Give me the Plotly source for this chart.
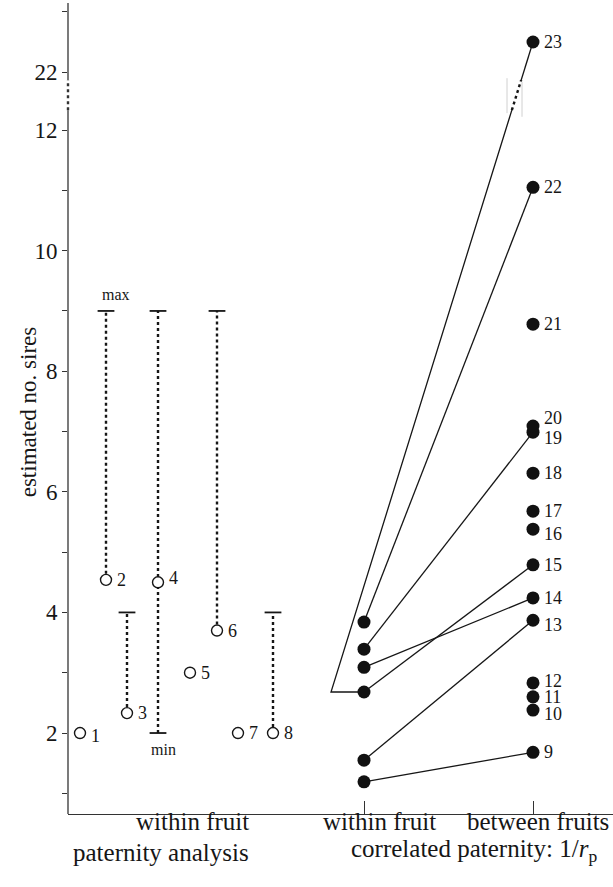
import plotly.graph_objects as go

# ---------------- data ----------------
left_labels = ['1', '2', '3', '4', '5', '6', '7', '8']
left_values = [2.0, 4.54, 2.33, 4.5, 3.0, 3.7, 2.0, 2.0]
left_min = [None, None, None, 2, None, None, None, None]
left_max = [None, 9, 4, 9, None, 9, None, 4]

between_labels = ['9', '10', '11', '12', '13', '14', '15', '16', '17', '18',
                  '19', '20', '21', '22', '23']
between_values = [1.68, 2.38, 2.60, 2.83, 3.87, 4.24, 4.79, 5.38, 5.68, 6.31,
                  6.99, 7.09, 8.78, 11.05, 22.5]

within_values = [3.84, 3.39, 3.09, 2.68, 1.55, 1.19]
within_links = ['22', '19', '14', '15', '13', '9']
bracket_from = 2.68
bracket_to = '23'

y_major_values = [2, 4, 6, 8, 10, 12, 22, 23]
y_major_labels = ['2', '4', '6', '8', '10', '12', '22', '23']
y_minor_values = [1, 3, 5, 7, 9, 11]

# ---------------- layout positions / styles ----------------
LEFT_X = [12, 38, 59, 90, 122, 149, 170, 205]
X_WITHIN, X_BETWEEN, X_BRACKET = 296, 465, 263
BREAK_LO, BREAK_HI, GAP = 12, 22, 0.96
AX_BREAK = (12.33, 12.83)
Y_RANGE = [0.657, 14.107]
INK = '#161616'
FONT = 'Liberation Serif'
label_yshift = {'1': -3, '4': 4, '13': -5, '16': -5, '19': -6, '20': 8,
                '10': -4, '12': 2}


def ty(v):
    return v if v <= BREAK_LO else v - BREAK_HI + BREAK_LO + GAP


bv = dict(zip(between_labels, between_values))

fig = go.Figure()

# left panel: dotted ranges
for x, v, lo, hi in zip(LEFT_X, left_values, left_min, left_max):
    if hi is None and lo is None:
        continue
    y0 = lo if lo is not None else v
    y1 = hi if hi is not None else v
    fig.add_trace(go.Scatter(x=[x, x], y=[ty(y0), ty(y1)], mode='lines',
                             line=dict(color=INK, width=2.4, dash='dot'),
                             hoverinfo='skip', showlegend=False))
    caps = [c for c in (lo, hi) if c is not None]
    fig.add_trace(go.Scatter(x=[x] * len(caps), y=[ty(c) for c in caps], mode='markers',
                             marker=dict(symbol='line-ew', size=12,
                                         line=dict(color=INK, width=1.8)),
                             hoverinfo='skip', showlegend=False))

fig.add_trace(go.Scatter(x=LEFT_X, y=[ty(v) for v in left_values], mode='markers',
                         marker=dict(symbol='circle', size=11, color='white',
                                     line=dict(color=INK, width=1.4)),
                         showlegend=False))

# right panel: links
for v, lab in zip(within_values, within_links):
    fig.add_trace(go.Scatter(x=[X_WITHIN, X_BETWEEN], y=[ty(v), ty(bv[lab])],
                             mode='lines', line=dict(color=INK, width=1.3),
                             hoverinfo='skip', showlegend=False))

# bracket line crossing the axis break
bt0, bt1 = ty(bracket_from), ty(bv[bracket_to])


def bx(t):
    return X_BRACKET + (t - bt0) / (bt1 - bt0) * (X_BETWEEN - X_BRACKET)


fig.add_trace(go.Scatter(x=[X_WITHIN, X_BRACKET, bx(AX_BREAK[0])],
                         y=[bt0, bt0, AX_BREAK[0]], mode='lines',
                         line=dict(color=INK, width=1.3), hoverinfo='skip', showlegend=False))
fig.add_trace(go.Scatter(x=[bx(AX_BREAK[0]), bx(AX_BREAK[1])], y=list(AX_BREAK), mode='lines',
                         line=dict(color=INK, width=2.4, dash='dot'),
                         hoverinfo='skip', showlegend=False))
fig.add_trace(go.Scatter(x=[bx(AX_BREAK[1]), X_BETWEEN], y=[AX_BREAK[1], bt1], mode='lines',
                         line=dict(color=INK, width=1.3), hoverinfo='skip', showlegend=False))
mid = bx(sum(AX_BREAK) / 2)
for dx, yy in ((-9.5, (12.28, 12.86)), (5.5, (12.22, 12.80))):
    fig.add_shape(type='line', x0=mid + dx, x1=mid + dx, y0=yy[0], y1=yy[1],
                  xref='x', yref='y', line=dict(color='#d0d0d0', width=1))

# dots
fig.add_trace(go.Scatter(x=[X_WITHIN] * len(within_values), y=[ty(v) for v in within_values],
                         mode='markers', marker=dict(size=13, color='#111111'), showlegend=False))
fig.add_trace(go.Scatter(x=[X_BETWEEN] * len(between_values), y=[ty(v) for v in between_values],
                         mode='markers', marker=dict(size=13, color='#111111'), showlegend=False))

# point labels
for x, v, lab in list(zip(LEFT_X, left_values, left_labels)) + \
        [(X_BETWEEN, v, l) for v, l in zip(between_values, between_labels)]:
    fig.add_annotation(x=x, y=ty(v), text=lab, showarrow=False, xanchor='left',
                       xshift=9, yshift=label_yshift.get(lab, 0),
                       font=dict(family=FONT, size=18, color=INK))

fig.add_annotation(x=LEFT_X[1] + 10, y=ty(9.1), text='max', showarrow=False, yanchor='bottom',
                   font=dict(family=FONT, size=16, color=INK))
fig.add_annotation(x=LEFT_X[3] + 5, y=ty(1.9), text='min', showarrow=False, yanchor='top',
                   font=dict(family=FONT, size=16, color=INK))

# y axis line with break
for y0, y1, dash, w in ((Y_RANGE[0], AX_BREAK[0], 'solid', 1.3),
                        (AX_BREAK[0], AX_BREAK[1], 'dot', 2.4),
                        (AX_BREAK[1], Y_RANGE[1], 'solid', 1.3)):
    fig.add_shape(type='line', xref='paper', yref='y', x0=0, x1=0, y0=y0, y1=y1,
                  line=dict(color='#333333', width=w, dash=dash))

# category labels
lab_font = dict(family=FONT, size=25, color=INK)
fig.add_annotation(x=183, y=-0.028, xref='x', yref='paper', text='within fruit', xanchor='right',
                   showarrow=False, font=lab_font)
fig.add_annotation(x=183, y=-0.067, xref='x', yref='paper', text='paternity analysis',
                   xanchor='right', showarrow=False, font=lab_font)
fig.add_annotation(x=X_WITHIN + 15, y=-0.028, xref='x', yref='paper', text='within fruit',
                   showarrow=False, font=lab_font)
fig.add_annotation(x=543, y=-0.028, xref='x', yref='paper', text='between fruits',
                   xanchor='right', showarrow=False, font=lab_font)
fig.add_annotation(x=406, y=-0.067, xref='x', yref='paper',
                   text='correlated paternity: 1/<i>r</i><sub>p</sub>',
                   showarrow=False, font=lab_font)
fig.add_annotation(x=-0.099, y=0.496, xref='paper', yref='paper', text='estimated no. sires',
                   textangle=-90, showarrow=False, font=dict(family=FONT, size=23, color=INK))

fig.update_layout(
    width=613, height=887, margin=dict(l=68, r=0, t=3, b=73, autoexpand=False),
    paper_bgcolor='white', plot_bgcolor='white', showlegend=False,
    xaxis=dict(range=[0, 545], showline=True, linecolor='#333333', linewidth=1.3,
               ticks='inside', ticklen=13, tickcolor='#333333', tickwidth=1.3,
               tickvals=[X_WITHIN, X_BETWEEN], showticklabels=False, automargin=False,
               showgrid=False, zeroline=False, fixedrange=True),
    yaxis=dict(range=Y_RANGE, showline=False, ticks='outside', ticklen=5,
               tickcolor='#333333', tickwidth=1.3, automargin=False,
               tickvals=[ty(v) for v in y_major_values], ticktext=y_major_labels,
               tickfont=dict(family=FONT, size=23, color=INK),
               minor=dict(tickvals=y_minor_values, ticks='outside', ticklen=5,
                          tickcolor='#333333', tickwidth=1.3, showgrid=False),
               showgrid=False, zeroline=False, fixedrange=True),
)

fig.write_html('out.html', config={'displayModeBar': False},
               post_script="document.body.style.margin='0';document.body.style.overflow='hidden';")
